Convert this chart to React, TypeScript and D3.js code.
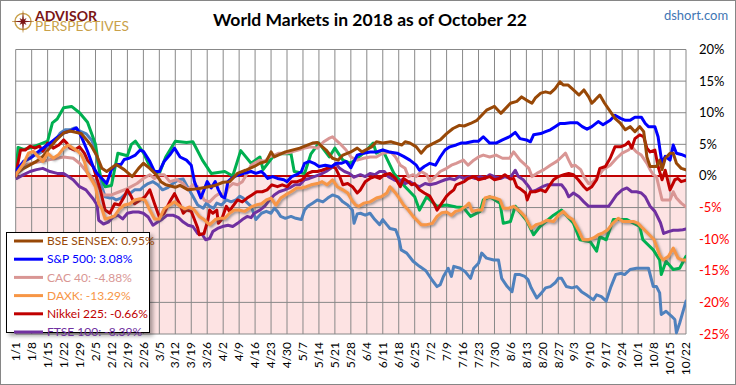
import React from 'react'
import * as d3 from 'd3'

// x values are weeks since 1/1, y values are % change in 2018
const weekLabels = ['1/1','1/8','1/15','1/22','1/29','2/5','2/12','2/19','2/26','3/5','3/12','3/19','3/26','4/2','4/9','4/16','4/23','4/30','5/7','5/14','5/21','5/28','6/4','6/11','6/18','6/25','7/2','7/9','7/16','7/23','7/30','8/6','8/13','8/20','8/27','9/3','9/10','9/17','9/24','10/1','10/8','10/15','10/22']
const yTicks = [20, 15, 10, 5, 0, -5, -10, -15, -20, -25]

const bseSensex = [[0,0],[0.06,0.4],[0.5,1.2],[1.3,2.3],[1.7,3.1],[2.55,5.7],[3,6.8],[3.4,7.1],[4.1,6.7],[4.45,5.7],[4.75,4.7],[5.1,3.1],[5.4,1.2],[5.7,0.7],[6.3,1.8],[6.8,1.0],[7.3,-0.1],[7.7,1.2],[8,2],[8.4,1.2],[8.8,0.2],[9.1,-0.9],[9.4,-1.4],[10.0,-1.8],[10.3,-1.5],[10.8,-2.2],[11.5,-2],[12.5,-1.5],[13,-1],[13.4,-0.9],[13.9,0.4],[14.4,0.9],[14.95,1.5],[15.3,2],[15.7,2.3],[16,3.8],[16.2,3],[16.9,3.8],[17.8,4.4],[18.6,5.2],[18.9,5.3],[19.45,4.1],[19.85,2.8],[20.2,2.5],[20.5,3.3],[21,3.8],[21.4,4.4],[21.7,3.8],[22.3,4.6],[22.6,5.4],[23,5.2],[23.5,5.4],[24.2,4.9],[24.4,5.4],[24.7,5.2],[25.1,4.6],[25.4,3.6],[25.75,4.6],[26.2,5.2],[26.6,5.7],[27,6.7],[27.4,7.5],[27.8,8],[28.1,7.9],[28.5,8.3],[28.9,8.8],[29.2,9.6],[29.5,10.4],[30,11],[30.4,9.9],[31,11.5],[31.4,11.8],[31.7,12.5],[32,12],[32.35,11.5],[32.55,12.3],[32.9,13.1],[33.2,13.3],[33.5,13.1],[33.8,13.8],[34.1,14.9],[34.3,14.4],[34.6,14.4],[34.95,13.6],[35.3,12.8],[35.6,13.6],[35.9,12.5],[36.1,11.5],[36.3,12.0],[36.6,12.8],[36.9,11.5],[37.25,10.2],[37.55,9.1],[37.9,8.3],[38.2,7.3],[38.5,7.8],[38.8,7.0],[39.1,7.8],[39.35,7.0],[39.45,5.1],[39.55,3.0],[39.75,1.5],[40.15,1.5],[40.35,2.5],[40.5,1.0],[40.7,2.8],[41,3.6],[41.2,3.6],[41.4,2.0],[41.7,1.2],[42,0.95]]
const sp500 = [[0,0],[0.06,1],[0.5,2.3],[0.9,2.8],[1.3,3.6],[1.7,4.4],[2.15,5.2],[2.55,6],[3,6.8],[3.4,7.1],[3.8,7.6],[4.0,6.8],[4.2,5.7],[4.5,3.9],[4.85,1.5],[5.1,0.4],[5.4,-0.4],[5.7,-1.2],[6,1],[6.3,1.8],[6.6,1.8],[6.8,2.6],[7.1,2.8],[7.5,3.3],[7.8,4.1],[8,3.9],[8.4,2.3],[8.7,0.7],[9,0.7],[9.3,2.3],[9.65,3.3],[9.95,4.4],[10.3,3.0],[10.7,2.5],[11,1.7],[11.2,-0.9],[11.4,-2.2],[11.6,-3.5],[11.8,-2.2],[12,-0.9],[12.25,-1.9],[12.5,-0.9],[12.7,-2.2],[12.9,-3.2],[13.1,-3.5],[13.3,-0.9],[13.5,-0.4],[13.7,-0.1],[14,0.2],[14.3,0.4],[14.75,0.7],[15.05,0.4],[15.4,0.7],[15.6,0.2],[15.8,-0.4],[16.1,-0.1],[16.4,-0.4],[16.8,-0.6],[17,-0.9],[17.3,-0.1],[17.6,0.2],[17.9,0.7],[18.1,2],[18.4,2.3],[18.7,2],[19,1.5],[19.4,1.7],[19.8,1.5],[20.1,2],[20.4,2],[20.7,2.3],[21,1.3],[21.4,3.3],[21.8,3.6],[22.2,3.8],[22.6,3.8],[23,4.1],[23.4,3.8],[23.9,3.6],[24.3,3.1],[24.7,2.5],[25.1,1.7],[25.3,0.9],[25.6,1.5],[25.95,2],[26.3,1.7],[26.6,3],[26.9,4.1],[27.2,4.6],[27.6,4.9],[27.9,5.2],[28.2,5.2],[28.7,5.5],[29,5.5],[29.3,6.2],[29.7,5.2],[30.1,5.2],[30.5,5.7],[30.95,6.2],[31.3,6.9],[31.6,5.9],[32,5.7],[32.25,5.4],[32.45,6.5],[32.9,6.7],[33.2,7.0],[33.5,7.3],[33.8,7.8],[34.1,8.3],[34.4,8.3],[34.75,8.4],[35.2,8.4],[35.5,7.8],[35.8,7.4],[36.1,7.8],[36.5,8.6],[36.8,8.1],[37.25,8.8],[37.55,9.6],[37.9,9.1],[38.2,8.8],[38.5,8.8],[38.8,9.3],[39.2,9.3],[39.45,8.3],[39.65,7.8],[40.05,7.8],[40.25,6.2],[40.4,3.6],[40.5,2],[40.7,3.1],[41,2.5],[41.2,4.9],[41.4,3.6],[41.7,3.4],[42,3.08]]
const cac40 = [[0,0],[0.3,1.5],[1,2],[2,2.5],[3,3],[3.6,2.8],[4,2],[4.5,0.5],[5,-1],[5.5,-3],[6,-3],[6.5,-2.5],[7,-2],[7.6,-1.2],[8,-0.4],[8.4,0.2],[8.7,-0.4],[9,0.2],[9.3,0.2],[9.65,-0.9],[10.1,-0.6],[10.5,-1.2],[10.8,-2.2],[11.1,-1.4],[11.4,-1.7],[11.8,-3.8],[12.15,-4.1],[12.5,-3.2],[12.8,-2.7],[13.1,-3.3],[13.3,-1.9],[13.6,-1.2],[13.9,-1.4],[14.2,-0.9],[14.5,0.4],[14.75,1.7],[14.95,2],[15.3,2.5],[15.6,2.3],[15.9,3],[16.2,3.3],[16.5,3.6],[16.9,3.6],[17.3,3.8],[17.7,4.1],[18.1,4.4],[18.5,4.6],[18.9,4.4],[19.3,5.4],[19.6,5.9],[19.85,6.2],[20.05,5.7],[20.4,4.9],[20.7,4.1],[21,3.0],[21.4,2.5],[21.8,2.8],[22.2,3],[22.6,3],[23,3.6],[23.5,3.8],[23.8,3],[24.1,1.7],[24.4,1.2],[24.6,-0.1],[24.9,0.2],[25.1,-0.1],[25.4,0.7],[25.75,0.2],[25.95,-0.9],[26.3,-0.1],[26.6,0.7],[27,1.2],[27.3,1.7],[27.6,2],[28.05,2.5],[28.35,1.7],[28.7,2.5],[29,3],[29.3,3.3],[29.7,3],[30.1,3.3],[30.5,2.8],[30.95,2.8],[31.2,3.8],[31.6,2.5],[31.95,1.7],[32.15,1.2],[32.35,-0.1],[32.65,0.4],[33.1,1],[33.5,1.7],[33.9,2.3],[34.2,3],[34.45,3.6],[34.65,2.5],[34.85,1.5],[35.05,1.7],[35.4,1],[35.6,-0.1],[35.9,-1.2],[36.2,-0.9],[36.5,-0.1],[36.8,1],[37.25,1.7],[37.65,2.8],[38,3.6],[38.4,4.1],[38.6,4.6],[38.9,3.8],[39.2,3.3],[39.55,2],[39.75,1],[39.95,0.2],[40.15,-0.1],[40.35,-2.2],[40.5,-3.8],[40.8,-3.8],[41,-3.8],[41.2,-2.5],[41.4,-3.5],[41.7,-4.3],[42,-4.88]]
const daxk = [[0,0],[0.06,0.4],[0.5,2],[0.8,3.6],[1.1,3.9],[1.4,3.1],[1.7,2.3],[2.0,3.6],[2.35,2.8],[2.7,3.4],[3,4.4],[3.3,4.9],[3.6,4.4],[3.9,3.9],[4.1,3.4],[4.3,2.3],[4.5,0.4],[4.75,-0.6],[5.0,-1.7],[5.2,-4.4],[5.4,-5.2],[5.6,-6.8],[5.9,-6.6],[6.2,-6.3],[6.5,-5.2],[6.8,-4.6],[7.15,-4.4],[7.45,-3.8],[7.8,-3.6],[8.1,-3.8],[8.4,-5.4],[8.7,-6.8],[9.0,-6.8],[9.3,-5.2],[9.65,-4.6],[9.95,-4.1],[10.3,-4.8],[10.6,-5.2],[10.9,-4.9],[11.2,-5.4],[11.5,-6.4],[11.8,-6.9],[12.15,-7.7],[12.5,-6.9],[12.8,-6.7],[13.1,-6.7],[13.4,-5.9],[13.7,-5.4],[14.0,-5.4],[14.35,-5.6],[14.75,-4.9],[15.05,-4.6],[15.4,-4.4],[15.7,-3.8],[16.0,-3.5],[16.3,-4.6],[16.6,-3.5],[16.9,-3],[17.25,-2.5],[17.6,-1.9],[17.9,-1.9],[18.2,-1.7],[18.5,-1.4],[18.9,-1.2],[19.2,-0.9],[19.5,-1.4],[19.85,-0.6],[20.15,-1.7],[20.5,-2.2],[20.8,-2.7],[21.1,-4.0],[21.3,-4.6],[21.5,-4.8],[21.8,-4.3],[22.2,-4.1],[22.6,-3.5],[22.9,-3.3],[23.25,-2.7],[23.45,-1.7],[23.8,-2.7],[24.1,-3.8],[24.3,-4.6],[24.6,-5.4],[24.9,-6.4],[25.1,-6.9],[25.4,-7.7],[25.75,-7.7],[26.1,-7.5],[26.4,-6.4],[26.7,-5.8],[27,-5.7],[27.3,-6.2],[27.55,-5.6],[27.85,-5.4],[28.2,-4.8],[28.4,-4.3],[28.6,-5.6],[28.9,-5.4],[29.2,-5.4],[29.4,-3.5],[29.7,-3.3],[30.05,-3.5],[30.35,-3.8],[30.55,-5.1],[30.9,-5.1],[31.2,-4.8],[31.6,-5.6],[31.9,-6.4],[32.3,-8.3],[32.6,-7.7],[32.9,-7.5],[33.3,-7],[33.7,-7.2],[34,-6.2],[34.3,-5.6],[34.6,-6.4],[34.9,-6.9],[35.25,-8.5],[35.55,-10.1],[35.85,-10.1],[36.2,-9.8],[36.5,-9.3],[36.8,-9.0],[37.1,-8.5],[37.4,-7.5],[37.75,-6.7],[38.05,-7.2],[38.4,-7.2],[38.7,-7.2],[39.0,-7.5],[39.3,-8.3],[39.7,-9.3],[40,-10.1],[40.35,-12.5],[40.55,-13.3],[40.9,-12.7],[41.2,-11.4],[41.5,-13],[41.8,-13.3],[42,-13.29]]
const nikkei225 = [[0,0],[0.06,1],[0.3,4.1],[0.6,4.1],[0.9,4.7],[1.2,4.4],[1.5,4.7],[1.7,3.9],[2.0,5.2],[2.35,4.4],[2.7,4.9],[3.0,5.7],[3.2,5.2],[3.4,4.4],[3.7,4.1],[4.0,4.6],[4.3,3.6],[4.5,2.5],[4.85,1.5],[5.05,-0.1],[5.3,-2.2],[5.6,-5.4],[5.9,-5.9],[6.2,-4.4],[6.5,-4.6],[6.8,-3.3],[7.0,-2.2],[7.25,-3.3],[7.45,-4.4],[7.8,-3.8],[8.1,-3.3],[8.4,-2.2],[8.7,-4.4],[9.0,-6.5],[9.3,-5.9],[9.65,-4.1],[9.95,-2.8],[10.3,-4.6],[10.5,-5.9],[10.7,-5.4],[11.0,-5.6],[11.2,-6.9],[11.4,-8.2],[11.5,-9.3],[11.8,-9.1],[12.05,-6.9],[12.15,-5.4],[12.35,-5.9],[12.6,-5.4],[12.7,-7.5],[12.9,-6.9],[13.2,-4.8],[13.4,-5.6],[13.6,-4.8],[13.9,-3.8],[14.2,-4.1],[14.5,-3.5],[14.8,-3.0],[15.1,-2.5],[15.45,-2.5],[15.75,-2.2],[16.05,-1.4],[16.4,-1.7],[16.7,-1.4],[17.0,-1.7],[17.3,-0.9],[17.65,-0.9],[17.95,-0.6],[18.3,0.4],[18.6,0.7],[18.9,0.7],[19.2,0.9],[19.5,1.2],[19.85,1.5],[20.05,1.2],[20.3,-0.1],[20.5,-1.4],[20.8,-1.2],[21.1,-1.7],[21.4,-2.7],[21.6,-2.2],[21.9,-0.9],[22.2,-0.4],[22.5,-0.1],[22.8,-0.4],[23.1,0.2],[23.45,0.4],[23.8,-0.4],[24.1,-1.7],[24.3,-0.4],[24.6,-0.9],[24.8,-1.4],[25.0,-1.2],[25.3,-2.2],[25.6,-2.7],[25.95,-3.2],[26.2,-4.3],[26.4,-5.4],[26.7,-4.3],[27.0,-3.2],[27.2,-2.7],[27.45,-2.2],[27.6,-1.4],[28.1,-0.9],[28.35,-0.4],[28.7,-0.1],[29.0,-0.6],[29.3,-0.4],[29.7,-0.1],[30.0,-0.6],[30.3,-0.4],[30.65,0.2],[31.0,-0.5],[31.2,-0.4],[31.4,-1.7],[31.6,-2.0],[31.95,-2.7],[32.05,-3.8],[32.25,-2.5],[32.55,-2.5],[32.9,-2.2],[33.2,-2.5],[33.4,-1.7],[33.7,-0.6],[34.0,-0.1],[34.35,0.2],[34.65,0.4],[34.95,0.2],[35.25,-0.6],[35.6,-1.7],[35.8,-2.2],[36.1,-1.7],[36.4,-0.6],[36.6,1.2],[36.95,1.5],[37.25,2.8],[37.55,4.6],[37.9,4.6],[38.2,4.9],[38.4,5.4],[38.6,4.4],[38.8,5.9],[39.1,6.5],[39.35,6.2],[39.55,4.4],[39.75,3.8],[40.05,4.1],[40.25,1.5],[40.5,-0.6],[40.7,0.9],[41.0,-2.2],[41.3,-0.6],[41.5,-0.4],[41.7,-0.9],[42,-0.66]]
const ftse100 = [[0,0],[0.06,-0.4],[0.5,0.2],[0.9,0.7],[1.3,1],[1.7,1.2],[2.15,0.7],[2.6,0.4],[3.0,0.4],[3.3,-0.1],[3.6,-0.6],[4.0,-1.7],[4.4,-2.2],[4.85,-3.6],[5.1,-4.6],[5.2,-7],[5.5,-7.6],[5.8,-7.3],[6.1,-6.5],[6.4,-6.2],[6.7,-6.8],[7.0,-5.9],[7.35,-5.7],[7.7,-5.7],[8.0,-5.9],[8.3,-6.5],[8.6,-7.8],[8.9,-7.3],[9.2,-6.8],[9.5,-6.2],[9.85,-6.2],[10.2,-6.6],[10.5,-7.3],[10.8,-7.8],[11.1,-8],[11.4,-9.1],[11.7,-9.3],[11.9,-10.1],[12.15,-9.9],[12.35,-8.8],[12.65,-8.3],[12.95,-8],[13.3,-7.8],[13.6,-8],[13.9,-7.5],[14.2,-6.9],[14.5,-6.4],[14.75,-6.6],[14.95,-5.9],[15.3,-5.4],[15.6,-4.8],[15.9,-3.8],[16.2,-3],[16.5,-2.5],[16.85,-2.2],[17.15,-1.9],[17.5,-1.4],[17.8,-1.4],[18.1,-0.6],[18.4,-0.4],[18.7,-0.1],[19.05,0.2],[19.45,0.7],[19.75,1.2],[20.05,2.0],[20.3,1.2],[20.6,0.7],[20.9,0.4],[21.2,-0.2],[21.6,0.2],[21.9,-0.1],[22.2,0.4],[22.5,0.2],[22.8,0.7],[23.1,0.7],[23.35,-0.1],[23.7,-0.6],[24.0,-0.9],[24.2,-0.6],[24.4,-1.2],[24.7,-0.9],[25.0,-1.4],[25.3,-1.7],[25.65,-1.2],[25.95,-1.4],[26.3,-1.2],[26.6,-0.9],[26.9,-0.6],[27.2,-0.4],[27.5,-0.6],[27.8,-0.1],[28.1,-0.4],[28.45,-0.1],[28.8,-0.4],[29.1,-0.1],[29.4,-0.4],[29.7,0.2],[30.0,-0.1],[30.4,-0.4],[30.65,-0.1],[30.95,-0.4],[31.3,0.9],[31.5,-0.1],[31.8,-0.6],[32.15,-1.7],[32.35,-2.5],[32.65,-2.2],[33.0,-1.7],[33.3,-1.4],[33.6,-1.4],[33.9,-1.4],[34.2,-1.4],[34.45,-2.2],[34.65,-3.3],[34.95,-2.7],[35.3,-3.3],[35.6,-4.1],[35.9,-4.8],[36.2,-4.8],[36.5,-4.8],[36.8,-4.8],[37.15,-4.8],[37.35,-4.1],[37.65,-3.0],[38.0,-2.2],[38.3,-1.9],[38.6,-2.5],[38.9,-2.5],[39.2,-2.7],[39.45,-3.3],[39.75,-4.8],[40.05,-5.6],[40.4,-7.4],[40.6,-9.1],[40.9,-8.8],[41.2,-8.6],[41.5,-8.6],[41.8,-8.5],[42,-8.39]]
const greenIndex = [[0,0],[0.15,4.5],[0.5,4.2],[1,4.5],[1.5,5],[2,5.5],[2.3,8.4],[2.6,9],[3,10.8],[3.5,11],[4,10],[4.5,8.5],[5,5.0],[5.3,0],[5.6,-1.7],[6,-1.5],[6.4,3.6],[7,3.2],[7.25,5],[7.5,5.5],[8,3.7],[8.5,1],[9,0.4],[9.4,3],[10,5.5],[10.7,5.3],[11.1,5.4],[11.7,2.5],[12.25,0.4],[13.1,0.7],[13.6,0],[14.1,4],[14.75,2],[15.3,3],[15.5,1],[16.1,3],[16.5,3.5],[17.25,3.5],[17.45,0.7],[18.1,0.4],[18.5,3.5],[19,5.2],[19.65,3],[20,4.4],[20.5,2.5],[21.0,2.0],[21.8,3.6],[22.4,5.2],[22.6,3.6],[23,4.1],[23.7,0.4],[24.4,-1.7],[25,-3.3],[25.3,-5.4],[25.75,-3.3],[26.4,-4.8],[27,-4.6],[27.6,-4.9],[28.05,-5],[28.5,-6.4],[29.1,-5.6],[29.3,-3.8],[29.7,-3.3],[30.35,-4.3],[30.55,-7.5],[31,-7.2],[31.3,-4.8],[32,-7],[32.45,-9.3],[32.85,-8],[33.7,-6.2],[34.2,-5.4],[34.95,-7.5],[35.35,-10.1],[36,-10.4],[36.4,-11.9],[36.6,-9.6],[37,-10.1],[37.45,-6.9],[38.3,-6.9],[39.1,-8],[39.3,-10.1],[39.95,-11.7],[40.35,-13.3],[40.45,-15.6],[40.75,-13.5],[41.2,-14.8],[41.6,-14.6],[42,-12.7]]
const steelIndex = [[0,0],[0.06,0.2],[0.5,2.3],[0.9,2.8],[1.2,3.3],[1.5,3.6],[1.8,4.1],[2.15,5.2],[2.5,5.7],[2.8,6.8],[3.1,7.3],[3.4,7.3],[3.7,7.6],[3.9,7.3],[4.1,7.0],[4.4,6.7],[4.75,5.7],[4.95,4.6],[5.2,1.5],[5.4,-1.7],[5.6,-3.3],[5.9,-3.5],[6.1,-3.5],[6.3,-3.8],[6.6,-3.5],[6.9,-2.8],[7.15,-2.8],[7.45,-2.2],[7.8,-2.2],[8.0,-1.7],[8.3,-1.2],[8.6,-0.9],[8.9,-1.4],[9.2,-2.2],[9.5,-1.9],[9.85,-1.2],[10.2,-0.6],[10.5,-0.5],[10.8,-1.9],[11.1,-3.2],[11.4,-4.6],[11.75,-5.1],[11.95,-4.3],[12.15,-4.8],[12.4,-5.1],[12.6,-4.3],[12.9,-4.6],[13.2,-3.8],[13.5,-4.1],[13.8,-3.8],[14.05,-3.2],[14.25,-3.5],[14.45,-4.1],[14.75,-4.8],[15.05,-6.9],[15.4,-5.9],[15.7,-5.6],[16.0,-5.9],[16.2,-5.1],[16.4,-5.6],[16.6,-6.4],[16.9,-6.7],[17.25,-6.4],[17.55,-6.7],[17.9,-6.9],[18.1,-5.4],[18.3,-4.8],[18.6,-4.3],[18.9,-3.8],[19.25,-4.1],[19.55,-3.5],[19.85,-3.0],[20.2,-3.3],[20.5,-4.1],[20.8,-4.6],[21.1,-5.4],[21.2,-7.5],[21.4,-6.0],[21.6,-5.9],[21.9,-6.2],[22.2,-5.9],[22.5,-6.9],[22.8,-7.7],[23.0,-6.9],[23.25,-7.7],[23.45,-8.3],[23.8,-8.5],[23.9,-9.1],[24.0,-9.8],[24.15,-11.7],[24.5,-12.2],[24.9,-13.5],[25.3,-14.3],[25.7,-15.0],[26.1,-16.5],[26.4,-17.5],[26.6,-17.2],[26.8,-15.9],[27.1,-14.6],[27.3,-15.9],[27.45,-14.3],[27.85,-14.6],[28.15,-15.1],[28.5,-16.2],[28.7,-14.6],[29.0,-13.8],[29.2,-12.2],[29.5,-13],[29.95,-13.3],[30.25,-13.3],[30.45,-16.2],[30.8,-17.5],[31.1,-18.3],[31.3,-15.6],[31.6,-15.6],[31.9,-15.9],[32.1,-16.4],[32.3,-17.7],[32.65,-19.3],[32.95,-18.5],[33.2,-17.7],[33.5,-17.5],[33.8,-16.9],[34.0,-16.2],[34.2,-16.2],[34.5,-17.5],[34.85,-17.7],[35.15,-17.5],[35.45,-18.3],[35.75,-18.8],[36.2,-19.6],[36.4,-18.8],[36.7,-19.1],[37.0,-19.8],[37.3,-17.5],[37.6,-15.6],[37.95,-15.4],[38.15,-15.6],[38.5,-14.8],[38.9,-14.6],[39.2,-14.6],[39.65,-14.6],[39.95,-17.5],[40.15,-17.5],[40.35,-18.5],[40.45,-21.9],[40.75,-21.4],[41.1,-22.2],[41.3,-22.7],[41.4,-24.8],[41.6,-23.3],[42.0,-19.8]]

// drawing order: first is at the bottom
const series = [
  { key: 'steel', data: steelIndex, color: '#4f81bd' },
  { key: 'green', data: greenIndex, color: '#00b050' },
  { key: 'cac', data: cac40, color: '#d99694' },
  { key: 'ftse', data: ftse100, color: '#7030a0' },
  { key: 'nikkei', data: nikkei225, color: '#c00000' },
  { key: 'sp', data: sp500, color: '#0000ff' },
  { key: 'bse', data: bseSensex, color: '#984807' },
  { key: 'dax', data: daxk, color: '#f79646', shadow: true },
]

const legendItems = [
  { label: 'BSE SENSEX: 0.95%', color: '#984807' },
  { label: 'S&P 500: 3.08%', color: '#0000ff' },
  { label: 'CAC 40: -4.88%', color: '#d99694' },
  { label: 'DAXK: -13.29%', color: '#f79646' },
  { label: 'Nikkei 225: -0.66%', color: '#c00000' },
  { label: 'FTSE 100: -8.39%', color: '#7030a0' },
]

const W = 736
const H = 385
const font = "Lato, 'Open Sans', sans-serif"

export default function App() {
  const x = d3.scaleLinear().domain([0, weekLabels.length - 1]).range([15.7, 686])
  const y = d3.scaleLinear().domain([-25, 20]).range([334, 49.5])

  const line = d3.line<number[]>()
    .x(d => x(d[0]))
    .y(d => y(d[1]))

  // compass logo
  const cx = 23, cy = 21.5
  const star = d3.range(16).map(i => {
    const a = (i * Math.PI) / 8 - Math.PI / 2
    const r = i % 4 === 0 ? 10 : i % 2 === 0 ? 5 : 2.2
    return [cx + r * Math.cos(a), cy + r * Math.sin(a)]
  })

  return (
    <svg width={W} height={H} style={{ position: 'absolute', left: 0, top: 0, fontFamily: font }}>
      <defs>
        <filter id="shadow" x="-10%" y="-10%" width="130%" height="130%">
          <feDropShadow dx="3" dy="3" stdDeviation="2" floodColor="#000" floodOpacity="0.35" />
        </filter>
        <filter id="lineShadow" x="-5%" y="-5%" width="110%" height="115%">
          <feDropShadow dx="1.5" dy="1.5" stdDeviation="1.2" floodColor="#555" floodOpacity="0.6" />
        </filter>
        <clipPath id="plotClip">
          <rect x={x(0)} y={y(20) - 2} width={x(42) - x(0)} height={y(-25) - y(20) + 4} />
        </clipPath>
      </defs>
      <rect x={0.5} y={0.5} width={W - 1} height={H - 1} fill="#fff" stroke="#868686" />

      {/* logo */}
      <circle cx={cx} cy={cy} r={8} fill="none" stroke="#c9a14a" strokeWidth={1.4} />
      <line x1={cx - 11} x2={cx + 11} y1={cy} y2={cy} stroke="#c9a14a" strokeWidth={0.8} />
      <line x1={cx} x2={cx} y1={cy - 11} y2={cy + 11} stroke="#c9a14a" strokeWidth={0.8} />
      <polygon points={star.map(p => p.join(',')).join(' ')} fill="#7b1616" />
      <text x={35} y={20.5} fontSize={13} fontWeight="bold" fill="#7b1616" textLength={62} lengthAdjust="spacingAndGlyphs">ADVISOR</text>
      <text x={35} y={31} fontSize={13} fill="#c9a14a" textLength={94} lengthAdjust="spacingAndGlyphs">PERSPECTIVES</text>

      <text x={370} y={26} textAnchor="middle" fontSize={17.5} fontWeight="bold" fill="#000">World Markets in 2018 as of October 22</text>
      <text x={696} y={20} textAnchor="middle" fontSize={13} fill="#3f76b4">dshort.com</text>

      {/* plot background */}
      <rect x={x(0)} y={y(0)} width={x(42) - x(0)} height={y(-25) - y(0)} fill="#fde3e3" />

      {/* grid */}
      {yTicks.map(t => (
        <line key={`h${t}`} x1={x(0)} x2={x(42)} y1={y(t)} y2={y(t)} stroke="#888" strokeWidth={1} />
      ))}
      {weekLabels.map((_, i) => (
        <line key={`v${i}`} x1={x(i)} x2={x(i)} y1={y(20)} y2={y(-25)} stroke="#888" strokeWidth={1} />
      ))}
      <line x1={x(0)} x2={x(42)} y1={y(0)} y2={y(0)} stroke="#c00000" strokeWidth={2} />

      {/* series */}
      <g clipPath="url(#plotClip)">
        {series.map(s => (
          <path key={s.key} d={line(s.data as number[][]) || ''} fill="none" stroke={s.color}
            strokeWidth={3} strokeLinejoin="round" strokeLinecap="round"
            filter={s.shadow ? 'url(#lineShadow)' : undefined} />
        ))}
      </g>

      {/* y labels on the right */}
      {yTicks.map(t => (
        <text key={`yl${t}`} x={699} y={y(t)} dy="0.35em" fontSize={13} fill={t < 0 ? '#ff0000' : '#000'}>{`${t}%`}</text>
      ))}

      {/* x labels */}
      {weekLabels.map((l, i) => (
        <text key={`xl${i}`} transform={`translate(${x(i)},342) rotate(-90)`} dy="0.35em" textAnchor="end" fontSize={12} fill="#000">{l}</text>
      ))}

      {/* legend */}
      <rect x={6.5} y={232.5} width={143} height={100} fill="#fff" stroke="#000" strokeWidth={1} filter="url(#shadow)" />
      {legendItems.map((it, i) => {
        const ly = 241 + i * 18.2
        return (
          <g key={it.label}>
            <line x1={14} x2={43} y1={ly} y2={ly} stroke={it.color} strokeWidth={3} />
            <text x={47} y={ly} dy="0.35em" fontSize={12} fill={it.color}>{it.label}</text>
          </g>
        )
      })}
    </svg>
  )
}
